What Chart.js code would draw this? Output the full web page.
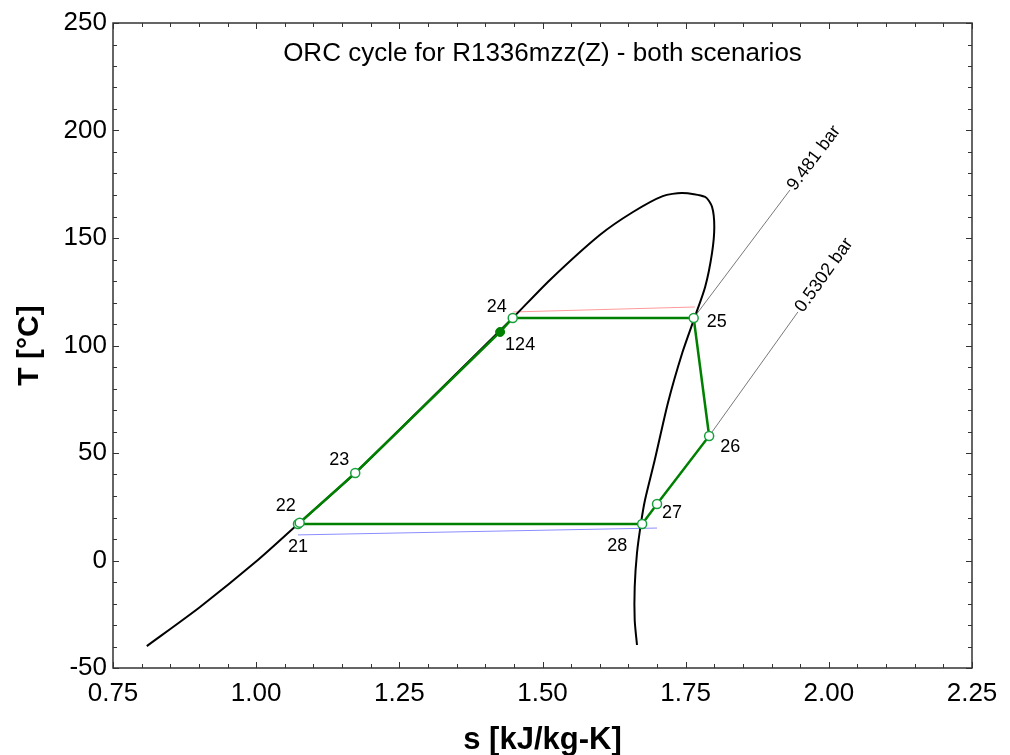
<!DOCTYPE html>
<html>
<head>
<meta charset="utf-8">
<script src="https://cdn.jsdelivr.net/npm/chart.js@4"></script>
<style>
  html, body { margin: 0; padding: 0; background: #fff; }
  #wrap { width: 1010px; height: 755px; }
</style>
</head>
<body>
<div id="wrap"><canvas id="tsChart" width="1010" height="755"></canvas></div>
<script>
// saturation dome (liquid side up to the top, then down the vapour side)
const domeS = [0.809, 0.902, 1.003, 1.075, 1.173, 1.31, 1.448, 1.513, 1.600, 1.658, 1.710, 1.744, 1.784, 1.796, 1.800, 1.796, 1.784, 1.766, 1.744, 1.719, 1.696, 1.679, 1.672, 1.665, 1.661, 1.661, 1.665];
const domeT = [-39.8, -21.6, 0.2, 17.4, 40.7, 76.5, 112.8, 130.5, 151.4, 162.1, 169.5, 170.9, 169.1, 164.5, 155.1, 143.0, 127.2, 113.3, 96.5, 73.3, 46.7, 28.1, 17.4, 3.5, -12.3, -27.7, -39.3];

// cycle state points
const stateNames = ['21', '22', '23', '124', '24', '25', '26', '27', '28'];
const stateS = [1.073, 1.076, 1.173, 1.426, 1.448, 1.764, 1.791, 1.700, 1.674];
const stateT = [17.0, 17.6, 40.7, 106.3, 112.8, 112.8, 57.9, 26.3, 17.0];
const cycleOrder = ['21', '22', '23', '124', '24', '25', '26', '27', '28', '21'];
const filledStates = ['124'];

// thin reference lines
const redS = [1.449, 1.766];
const redT = [115.6, 117.9];
const blueS = [1.073, 1.700];
const blueT = [11.9, 15.1];

// isobars
const isoHighS = [1.764, 1.932];
const isoHighT = [112.8, 172.3];
const isoLowS = [1.791, 1.946];
const isoLowT = [57.9, 115.6];
const isoLabels = ['9.481 bar', '0.5302 bar'];

// axes
const xTicks = [0.75, 1.00, 1.25, 1.50, 1.75, 2.00, 2.25];
const yTicks = [-50, 0, 50, 100, 150, 200, 250];

const pts = (xs, ys) => xs.map((x, i) => ({ x: x, y: ys[i] }));
const stateByName = {};
stateNames.forEach((n, i) => { stateByName[n] = { x: stateS[i], y: stateT[i] }; });

// label offsets in pixels from each state point
const labelOffsets = {
    '21': [0, 23], '22': [-14, -17], '23': [-16, -13], '24': [-16, -11], '124': [20, 13],
    '25': [23, 4], '26': [21, 11], '27': [15, 9], '28': [-25, 22]
};

const GREEN = '#008000';
const MARKER = '#17a03c';

const decorPlugin = {
    id: 'decor',
    afterDraw(chart) {
        const { ctx, chartArea: a, scales } = chart;
        const xs = scales.x, ys = scales.y;
        ctx.save();

        // frame
        ctx.strokeStyle = '#333';
        ctx.lineWidth = 1.5;
        ctx.strokeRect(a.left, a.top, a.right - a.left, a.bottom - a.top);

        // inward ticks on all four sides
        ctx.lineWidth = 1;
        for (let i = 0; i <= 30; i++) {
            const v = 0.75 + i * 0.05;
            const px = Math.round(xs.getPixelForValue(v)) + 0.5;
            const len = i % 5 === 0 ? 6 : 4;
            ctx.beginPath();
            ctx.moveTo(px, a.bottom); ctx.lineTo(px, a.bottom - len);
            ctx.moveTo(px, a.top); ctx.lineTo(px, a.top + len);
            ctx.stroke();
        }
        for (let i = 0; i <= 30; i++) {
            const v = -50 + i * 10;
            const py = Math.round(ys.getPixelForValue(v)) + 0.5;
            const len = i % 5 === 0 ? 6 : 4;
            ctx.beginPath();
            ctx.moveTo(a.left, py); ctx.lineTo(a.left + len, py);
            ctx.moveTo(a.right, py); ctx.lineTo(a.right - len, py);
            ctx.stroke();
        }

        // title
        ctx.fillStyle = '#000';
        ctx.font = '26px "Liberation Sans", Arial, sans-serif';
        ctx.textAlign = 'center';
        ctx.textBaseline = 'middle';
        ctx.fillText('ORC cycle for R1336mzz(Z) - both scenarios', (a.left + a.right) / 2, a.top + 31);

        // state labels
        ctx.font = '18px "Liberation Sans", Arial, sans-serif';
        stateNames.forEach(n => {
            const p = stateByName[n];
            const off = labelOffsets[n];
            ctx.fillText(n, xs.getPixelForValue(p.x) + off[0], ys.getPixelForValue(p.y) + off[1]);
        });

        // isobar labels along the lines
        [[isoHighS, isoHighT], [isoLowS, isoLowT]].forEach((iso, k) => {
            const x0 = xs.getPixelForValue(iso[0][0]), y0 = ys.getPixelForValue(iso[1][0]);
            const x1 = xs.getPixelForValue(iso[0][1]), y1 = ys.getPixelForValue(iso[1][1]);
            const ang = Math.atan2(y1 - y0, x1 - x0);
            ctx.save();
            ctx.translate(x1, y1);
            ctx.rotate(ang);
            ctx.textAlign = 'left';
            ctx.textBaseline = 'middle';
            ctx.fillText(isoLabels[k], 2, 0);
            ctx.restore();
        });

        ctx.restore();
    }
};

const ctx = document.getElementById('tsChart').getContext('2d');
new Chart(ctx, {
    type: 'scatter',
    data: {
        datasets: [
            {
                label: 'open states',
                data: stateNames.filter(n => !filledStates.includes(n)).map(n => stateByName[n]),
                showLine: false,
                pointRadius: 4.5,
                pointBorderWidth: 1.5,
                pointBackgroundColor: '#fff',
                pointBorderColor: MARKER,
                order: 0
            },
            {
                label: 'filled states',
                data: filledStates.map(n => stateByName[n]),
                showLine: false,
                pointRadius: 4.5,
                pointBorderWidth: 1,
                pointBackgroundColor: GREEN,
                pointBorderColor: GREEN,
                order: 0
            },
            {
                label: 'cycle',
                data: cycleOrder.map(n => stateByName[n]),
                showLine: true,
                borderColor: GREEN,
                borderWidth: 2.5,
                pointRadius: 0,
                order: 1
            },
            {
                label: 'dome',
                data: pts(domeS, domeT),
                showLine: true,
                borderColor: '#000',
                borderWidth: 2,
                tension: 0.25,
                pointRadius: 0,
                order: 3
            },
            {
                label: 'red',
                data: pts(redS, redT),
                showLine: true,
                borderColor: '#ff9a9a',
                borderWidth: 1,
                pointRadius: 0,
                order: 4
            },
            {
                label: 'blue',
                data: pts(blueS, blueT),
                showLine: true,
                borderColor: '#8c8cff',
                borderWidth: 1,
                pointRadius: 0,
                order: 4
            },
            {
                label: 'iso high',
                data: pts(isoHighS, isoHighT),
                showLine: true,
                borderColor: '#555',
                borderWidth: 0.8,
                pointRadius: 0,
                order: 5
            },
            {
                label: 'iso low',
                data: pts(isoLowS, isoLowT),
                showLine: true,
                borderColor: '#555',
                borderWidth: 0.8,
                pointRadius: 0,
                order: 5
            }
        ]
    },
    options: {
        responsive: false,
        animation: false,
        layout: { padding: { top: 23, right: 38, left: 0, bottom: 0 } },
        scales: {
            x: {
                type: 'linear',
                min: 0.75,
                max: 2.25,
                afterBuildTicks: scale => { scale.ticks = xTicks.map(v => ({ value: v })); },
                afterFit: scale => { scale.height = 87; },
                ticks: {
                    color: '#000',
                    padding: 10,
                    maxRotation: 0,
                    font: { size: 26, family: '"Liberation Sans", Arial, sans-serif' },
                    callback: v => v.toFixed(2)
                },
                grid: { display: false, drawTicks: false },
                border: { display: false },
                title: {
                    display: true,
                    text: 's [kJ/kg-K]',
                    color: '#000',
                    padding: { top: 0, bottom: -4 },
                    font: { size: 31, weight: 'bold', family: '"Liberation Sans", Arial, sans-serif' }
                }
            },
            y: {
                type: 'linear',
                min: -50,
                max: 250,
                afterBuildTicks: scale => { scale.ticks = yTicks.map(v => ({ value: v })); },
                afterFit: scale => { scale.width = 113; },
                ticks: {
                    color: '#000',
                    padding: 6,
                    font: { size: 26, family: '"Liberation Sans", Arial, sans-serif' }
                },
                grid: { display: false, drawTicks: false },
                border: { display: false },
                title: {
                    display: true,
                    text: 'T [°C]',
                    color: '#000',
                    padding: { top: 12, bottom: 0 },
                    font: { size: 30, weight: 'bold', family: '"Liberation Sans", Arial, sans-serif' }
                }
            }
        },
        plugins: {
            legend: { display: false },
            tooltip: { enabled: false }
        }
    },
    plugins: [decorPlugin]
});
</script>
</body>
</html>
